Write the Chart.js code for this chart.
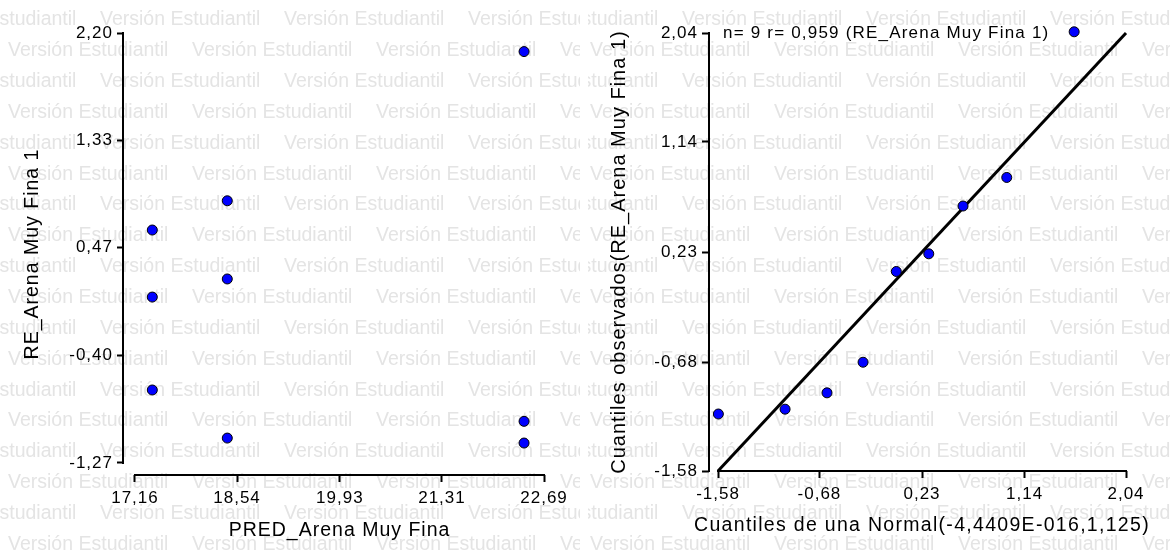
<!DOCTYPE html>
<html>
<head>
<meta charset="utf-8">
<script src="https://cdn.jsdelivr.net/npm/chart.js@4/dist/chart.umd.min.js"></script>
<style>
  html, body { margin: 0; padding: 0; background: #fff; }
  body { width: 1170px; height: 554px; position: relative; overflow: hidden; }
  .panel { position: absolute; top: 0; height: 554px; }
  #left { left: 0; width: 580px; }
  #right { left: 582px; width: 588px; }
</style>
</head>
<body>
<div class="panel" id="left"><canvas id="resid" width="580" height="554"></canvas></div>
<div class="panel" id="right"><canvas id="qq" width="588" height="554"></canvas></div>
<script>
// Residuals against predicted values
const predicted = [17.394, 18.408, 17.394, 18.408, 17.394, 18.408, 22.42, 22.42, 22.42];
const residuals = [0.610, 0.846, 0.069, 0.215, -0.681, -1.069, -0.934, -1.109, 2.05];
const residXTicks = [17.16, 18.54, 19.93, 21.31, 22.69];
const residXTickLabels = ['17,16', '18,54', '19,93', '21,31', '22,69'];
const residYTicks = [-1.27, -0.40, 0.47, 1.33, 2.20];
const residYTickLabels = ['-1,27', '-0,40', '0,47', '1,33', '2,20'];

// Normal Q-Q plot of the residuals
const normalQuantiles = [-1.577, -0.985, -0.613, -0.293, 0.002, 0.290, 0.594, 0.982, 1.58];
const observedQuantiles = [-1.109, -1.069, -0.934, -0.681, 0.069, 0.215, 0.610, 0.846, 2.05];
const qqTicks = [-1.58, -0.68, 0.23, 1.14, 2.04];
const qqTickLabels = ['-1,58', '-0,68', '0,23', '1,14', '2,04'];
const identityLine = [-1.58, 2.04];
const qqNote = 'n= 9 r= 0,959 (RE_Arena Muy Fina 1)';
const qqXTitle = 'Cuantiles de una Normal(-4,4409E-016,1,125)';

const FONT = '"Liberation Sans", Arial, Helvetica, sans-serif';
Chart.defaults.font.family = FONT;
Chart.defaults.color = '#000';

// Light repeated "Versión Estudiantil" stamp behind each panel
const WATERMARK = 'Versión Estudiantil';
const watermark = {
  id: 'watermark',
  beforeDraw(chart, args, opts) {
    const ctx = chart.ctx;
    ctx.save();
    ctx.beginPath();
    ctx.rect(opts.clipLeft || 0, 0, chart.width, chart.height);
    ctx.clip();
    ctx.letterSpacing = '0px';
    ctx.font = '19.5px ' + FONT;
    ctx.fillStyle = '#e4e4e4';
    ctx.textBaseline = 'middle';
    for (let r = 0; r < 18; r++) {
      const y = 20 + r * 30.85;
      for (let x = (r % 2 === 0 ? 100 : 8) - 184; x < chart.width; x += 184) {
        ctx.fillText(WATERMARK, x, y);
      }
    }
    ctx.restore();
  }
};

// Slightly open character spacing for all chart text
const spacing = {
  id: 'spacing',
  beforeLayout(chart) { chart.ctx.letterSpacing = '1px'; },
  beforeDraw(chart) { chart.ctx.letterSpacing = '1px'; }
};

// Axis lines spanning only from the first to the last tick
const axisLines = {
  id: 'axisLines',
  beforeDatasetsDraw(chart) {
    const { ctx, chartArea, scales: { x, y } } = chart;
    const x0 = x.getPixelForValue(x.ticks[0].value);
    const x1 = x.getPixelForValue(x.ticks[x.ticks.length - 1].value);
    const y0 = y.getPixelForValue(y.ticks[0].value);
    const y1 = y.getPixelForValue(y.ticks[y.ticks.length - 1].value);
    ctx.save();
    ctx.strokeStyle = '#000';
    ctx.lineWidth = 2;
    ctx.beginPath();
    ctx.moveTo(chartArea.left, y0 + 1);
    ctx.lineTo(chartArea.left, y1 - 1);
    ctx.moveTo(x0 - 1, chartArea.bottom);
    ctx.lineTo(x1 + 1, chartArea.bottom);
    ctx.stroke();
    ctx.restore();
  }
};

// Q-Q panel texts: sample size / correlation note and the x-axis title,
// which is wider than the plotting area
const qqTexts = {
  id: 'qqTexts',
  afterDraw(chart) {
    const { ctx, chartArea, scales: { x } } = chart;
    ctx.save();
    ctx.fillStyle = '#000';
    ctx.textBaseline = 'middle';
    ctx.letterSpacing = '1.2px';
    ctx.font = '17px ' + FONT;
    ctx.textAlign = 'left';
    ctx.fillText(qqNote, chartArea.left + 14, chartArea.top);
    ctx.letterSpacing = '1.3px';
    ctx.font = '19.5px ' + FONT;
    ctx.textAlign = 'center';
    const mid = (x.getPixelForValue(x.ticks[0].value) + x.getPixelForValue(x.ticks[x.ticks.length - 1].value)) / 2;
    ctx.fillText(qqXTitle, mid, chart.height - 28);
    ctx.restore();
  }
};

function axis(opts) {
  return {
    type: 'linear',
    min: opts.min,
    max: opts.max,
    afterBuildTicks: s => { s.ticks = opts.ticks.map(v => ({ value: v })); },
    afterFit: opts.fit,
    border: { display: false },
    grid: {
      drawOnChartArea: false,
      drawTicks: true,
      tickLength: opts.tickLength,
      tickWidth: 2,
      tickColor: '#000'
    },
    ticks: {
      autoSkip: false,
      maxRotation: 0,
      padding: opts.tickPadding,
      color: '#000',
      font: { size: 17 },
      callback: (v, i) => opts.labels[i]
    },
    title: {
      display: !!opts.title,
      text: opts.title || '',
      color: '#000',
      font: { size: opts.titleSize || 19.5 },
      padding: opts.titlePadding || 0
    }
  };
}

const pointStyle = {
  pointRadius: 5,
  pointHoverRadius: 5,
  pointBackgroundColor: '#0000ff',
  pointBorderColor: '#000',
  pointBorderWidth: 1,
  showLine: false
};

new Chart(document.getElementById('resid'), {
  type: 'scatter',
  data: {
    datasets: [{
      label: 'RE_Arena Muy Fina 1',
      data: predicted.map((p, i) => ({ x: p, y: residuals[i] })),
      ...pointStyle,
      clip: false
    }]
  },
  options: {
    responsive: false,
    animation: false,
    events: [],
    layout: { padding: { top: 33, right: 24, left: 0, bottom: 0 } },
    plugins: { legend: { display: false }, tooltip: { enabled: false }, watermark: { clipLeft: 0 } },
    scales: {
      x: axis({
        min: residXTicks[0] - 0.162, max: residXTicks[4] + 0.162,
        ticks: residXTicks, labels: residXTickLabels,
        tickLength: 7, tickPadding: 6,
        title: 'PRED_Arena Muy Fina', titlePadding: { top: 0, bottom: 12 },
        fit: s => { s.height = 79; }
      }),
      y: axis({
        min: residYTicks[0] - 0.097, max: residYTicks[4],
        ticks: residYTicks, labels: residYTickLabels,
        tickLength: 6, tickPadding: 4,
        title: 'RE_Arena Muy Fina 1', titlePadding: { top: 21, bottom: 0 },
        fit: s => { s.width = 123; }
      })
    }
  },
  plugins: [watermark, spacing, axisLines]
});

new Chart(document.getElementById('qq'), {
  type: 'scatter',
  data: {
    datasets: [{
      label: 'RE_Arena Muy Fina 1',
      data: normalQuantiles.map((q, i) => ({ x: q, y: observedQuantiles[i] })),
      ...pointStyle,
      clip: false,
      order: 0
    }, {
      type: 'line',
      label: 'y = x',
      data: identityLine.map(v => ({ x: v, y: v })),
      borderColor: '#000',
      borderWidth: 3,
      pointRadius: 0,
      fill: false,
      clip: false,
      order: 1
    }]
  },
  options: {
    responsive: false,
    animation: false,
    events: [],
    layout: { padding: { top: 33, right: 44, left: 0, bottom: 0 } },
    plugins: { legend: { display: false }, tooltip: { enabled: false }, watermark: { clipLeft: 6 } },
    scales: {
      x: axis({
        min: qqTicks[0] - 0.08, max: qqTicks[4],
        ticks: qqTicks, labels: qqTickLabels,
        tickLength: 7, tickPadding: 6,
        fit: s => { s.height = 83; }
      }),
      y: axis({
        min: qqTicks[0], max: qqTicks[4],
        ticks: qqTicks, labels: qqTickLabels,
        tickLength: 7, tickPadding: 4,
        title: 'Cuantiles observados(RE_Arena Muy Fina 1)', titleSize: 20,
        titlePadding: { top: 25, bottom: 0 },
        fit: s => { s.width = 127; }
      })
    }
  },
  plugins: [watermark, spacing, axisLines, qqTexts]
});
</script>
</body>
</html>
